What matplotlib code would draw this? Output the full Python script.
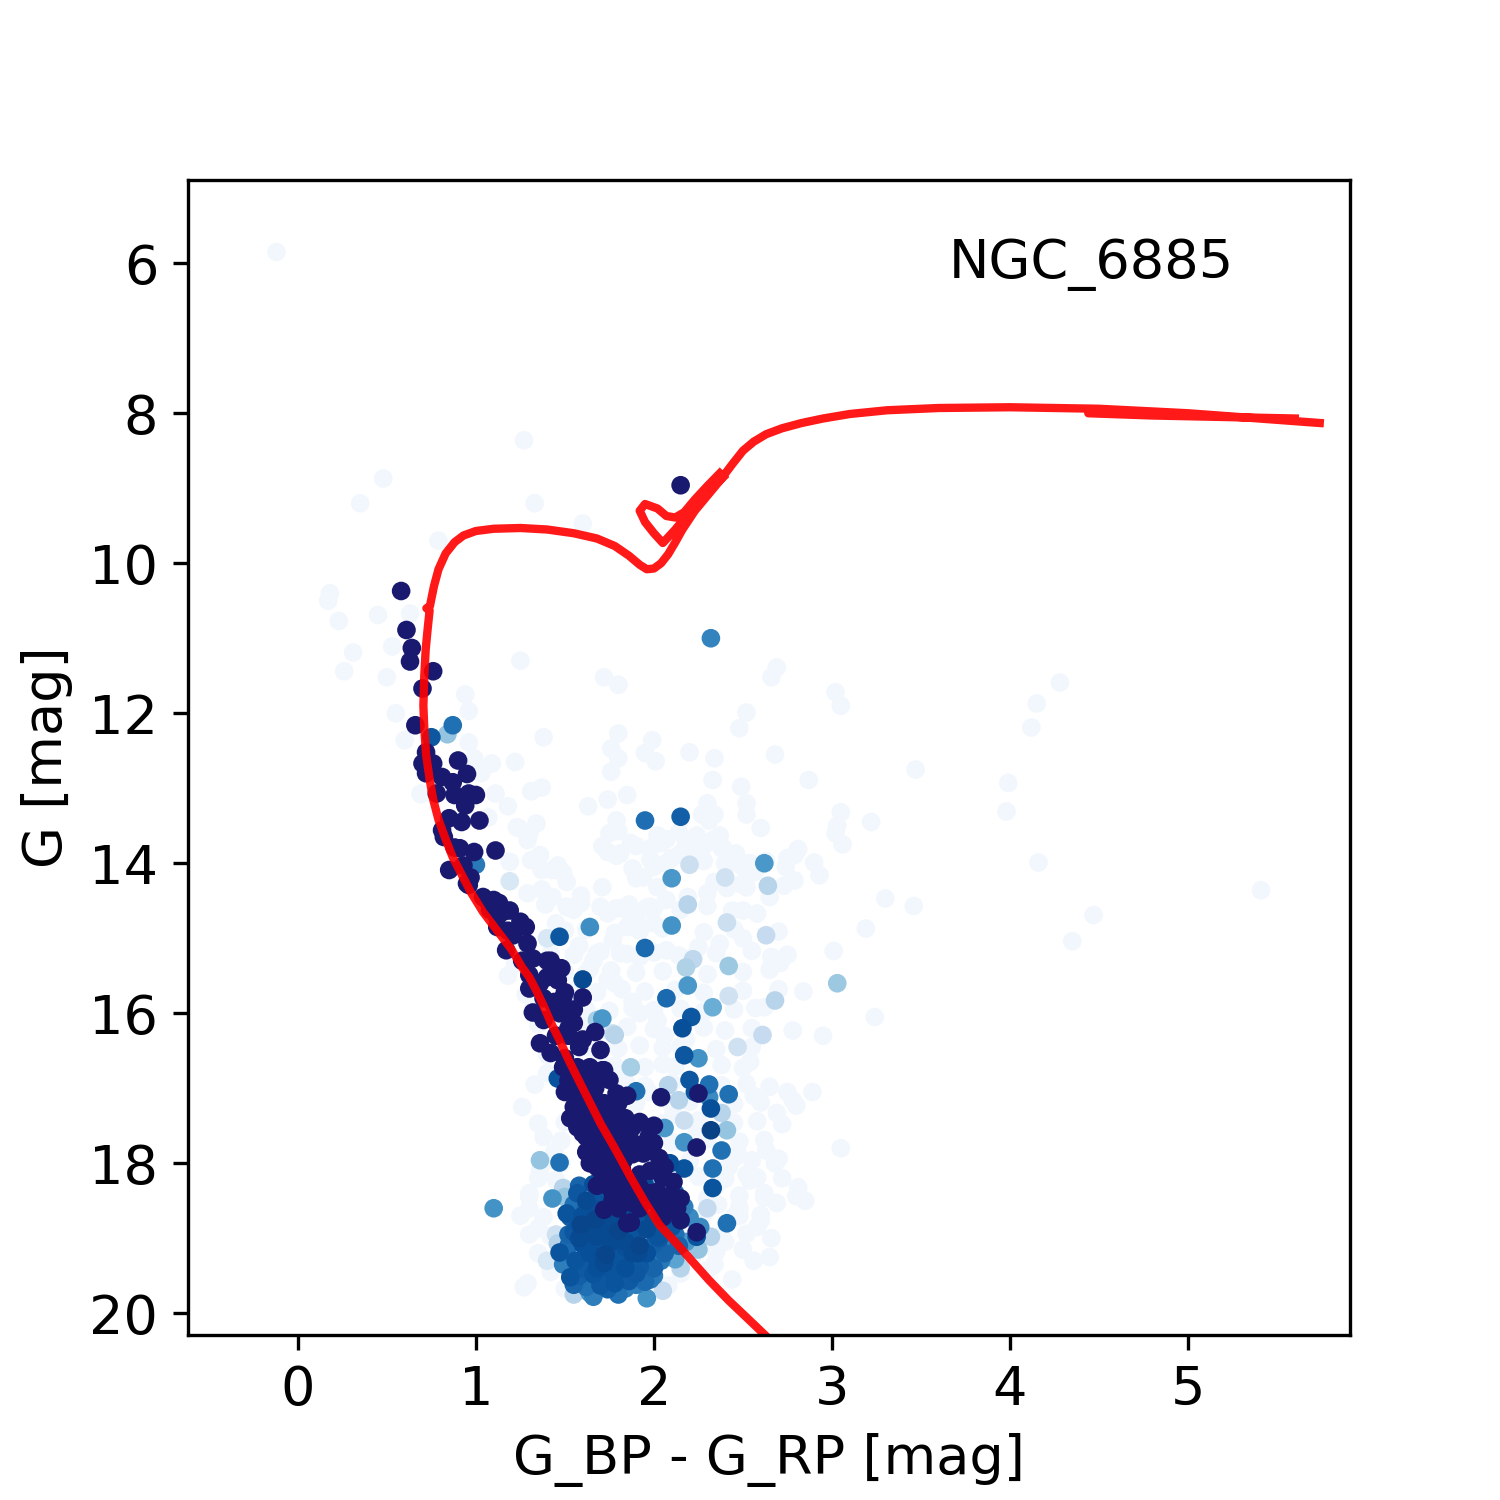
import numpy as np
import matplotlib
matplotlib.use('Agg')
import matplotlib.pyplot as plt

""" Cluster name and axis text """
cluster_name = 'NGC_6885'
x_label = 'G_BP - G_RP [mag]'
y_label = 'G [mag]'

""" Field stars (very low membership probability) : colour, magnitude """
field_bp_rp = [-0.12, 1.27, 0.48, 0.35, 1.33, 0.79, 1.60, 0.18, 0.17, 0.23, 0.45, 0.63, 0.31, 0.26, 0.53, 0.50,
               0.94, 0.96, 0.55, 0.60, 0.96, 1.38, 0.99, 1.09, 1.22, 1.03, 0.69, 1.11, 1.31, 1.37, 1.18, 1.07,
               1.24, 1.34, 1.29, 1.19, 1.31, 1.37, 1.49, 1.43, 1.59, 1.51, 1.45, 1.25, 1.72, 1.80, 1.80, 1.76,
               1.80, 1.76, 1.99, 1.95, 2.01, 2.20, 2.34, 2.33, 2.49, 2.52, 2.48, 2.66, 2.69, 2.68, 2.87, 3.02,
               3.05, 3.05, 3.03, 3.02, 3.06, 2.90, 2.93, 2.81, 2.79, 2.60, 2.52, 2.52, 2.34, 2.27, 2.30, 1.74,
               1.85, 1.63, 1.79, 2.02, 2.07, 2.14, 2.24, 2.31, 2.37, 2.38, 2.46, 2.54, 2.75, 2.63, 2.57, 2.48,
               2.40, 2.28, 2.18, 2.04, 1.98, 1.90, 1.87, 1.75, 1.80, 1.71, 1.79, 2.10, 1.98, 1.90, 2.28, 2.34,
               2.49, 2.73, 1.43, 1.37, 1.39, 1.29, 1.51, 1.59, 1.79, 1.86, 1.98, 1.23, 1.30, 1.36, 1.46, 1.52,
               1.74, 1.81, 1.88, 1.94, 2.00, 2.07, 2.15, 2.22, 2.39, 2.33, 2.44, 2.50, 2.56, 2.74, 2.79, 1.71,
               2.02, 2.19, 2.30, 2.41, 2.52, 2.65, 2.58, 2.44, 2.50, 2.37, 2.25, 2.22, 1.85, 1.90, 2.00, 1.83,
               1.96, 2.07, 1.74, 1.77, 1.68, 2.07, 1.81, 1.92, 4.28, 4.15, 4.12, 3.47, 3.99, 3.98, 3.22, 3.30,
               3.46, 4.16, 4.47, 4.35, 5.41, 3.19, 3.01, 2.71, 2.66, 2.84, 2.57, 3.24, 2.78, 2.54, 2.56, 2.75,
               2.89, 2.78, 2.69, 2.63, 2.81, 2.54, 2.60, 2.69, 2.48, 2.47, 1.35, 1.30, 1.35, 1.29, 1.27, 0.69,
               1.55, 1.70, 1.85, 2.00, 2.15, 2.30, 2.50, 1.50, 1.62, 1.78, 1.92, 2.05, 2.28, 2.45, 2.70, 1.42,
               1.55, 1.70, 1.85, 2.00, 2.14, 2.35, 2.55, 2.75, 1.50, 1.62, 1.76, 1.90, 2.05, 2.30, 2.50, 2.65,
               1.55, 1.68, 1.82, 1.95, 2.12, 2.28, 2.50, 2.70, 1.62, 1.75, 1.88, 2.00, 2.15, 2.28, 2.45, 2.62,
               1.60, 1.72, 1.85, 2.00, 2.28, 2.40, 2.55, 1.62, 1.80, 1.92, 2.05, 2.15, 2.35, 2.55, 1.78, 1.95,
               2.05, 2.12, 2.38, 2.50, 1.85, 1.95, 2.10, 2.38, 2.52, 2.65, 1.90, 2.10, 2.20, 2.45, 2.60, 2.80,
               1.50, 2.05, 2.25, 2.45, 2.58, 2.72, 1.48, 2.10, 2.30, 2.48, 2.62, 1.42, 2.20, 2.45, 2.55, 2.70,
               1.35, 1.45, 2.25, 2.40, 2.58, 1.30, 2.30, 2.48, 2.62, 2.80, 1.25, 1.38, 2.28, 2.45, 2.60, 1.30,
               1.42, 2.20, 2.38, 2.52, 1.35, 2.22, 2.35, 1.42, 2.15, 2.30, 1.27, 1.50, 2.08, 2.95, 2.85, 3.05,
               1.22, 1.28, 1.35, 1.40, 1.33, 1.26, 1.38, 1.44, 1.20, 1.32, 1.45, 1.40, 1.36, 1.48, 1.30, 1.18,
               2.35, 2.42, 2.52, 2.62, 2.68, 2.40, 2.50, 2.58, 2.66, 2.72, 2.34, 2.44, 2.56, 2.65, 2.36, 2.48,
               1.58, 1.66, 1.74, 1.88, 2.02, 2.18, 1.57, 1.69, 1.83, 1.97, 2.11, 2.24, 1.64, 1.78, 1.92, 2.06]
field_g = [5.85, 8.36, 8.87, 9.20, 9.20, 9.70, 9.47, 10.40, 10.50, 10.77, 10.69, 10.67, 11.19, 11.44, 11.11, 11.52,
           11.75, 11.97, 12.00, 12.36, 12.39, 12.32, 12.60, 12.67, 12.65, 12.80, 13.08, 13.07, 13.04, 12.99, 13.24, 13.39,
           13.53, 13.47, 13.69, 13.98, 13.96, 14.09, 14.13, 14.45, 14.43, 14.58, 14.80, 11.30, 11.52, 11.62, 12.27, 12.47,
           12.60, 12.78, 12.36, 12.53, 12.64, 12.52, 12.60, 12.89, 12.98, 11.99, 12.20, 11.52, 11.39, 12.55, 12.89, 11.72,
           11.90, 13.32, 13.50, 13.60, 13.75, 13.99, 14.16, 13.81, 13.89, 13.53, 13.35, 13.20, 13.35, 13.35, 13.20, 13.15,
           13.09, 13.24, 13.43, 13.63, 13.68, 13.59, 13.63, 13.43, 13.63, 13.80, 13.87, 14.00, 13.93, 13.97, 14.09, 13.97,
           14.00, 13.77, 13.77, 13.73, 13.80, 13.77, 13.73, 13.60, 13.57, 13.77, 13.90, 13.93, 13.95, 14.20, 13.97, 14.25,
           14.28, 14.30, 14.09, 14.35, 14.55, 14.40, 14.25, 14.53, 14.60, 14.55, 14.58, 13.52, 13.60, 13.89, 14.03, 14.59,
           13.85, 13.87, 14.07, 14.19, 14.05, 14.00, 13.87, 13.83, 13.80, 13.69, 13.99, 14.05, 14.12, 14.05, 14.23, 14.32,
           14.32, 14.45, 14.40, 14.33, 14.32, 14.45, 14.67, 14.63, 15.00, 15.07, 15.12, 15.25, 14.85, 14.73, 14.80, 14.59,
           14.59, 14.49, 14.67, 15.03, 15.20, 15.16, 15.20, 15.25, 11.59, 11.87, 12.19, 12.75, 12.93, 13.31, 13.45, 14.47,
           14.57, 13.99, 14.69, 15.04, 14.36, 14.87, 15.17, 15.33, 15.25, 15.71, 15.93, 16.05, 16.23, 16.65, 17.10, 17.05,
           17.05, 17.16, 17.33, 17.83, 18.32, 18.23, 18.76, 18.53, 18.59, 17.87, 17.47, 18.40, 18.87, 19.60, 19.65, 13.07,
           14.62, 14.58, 14.63, 14.60, 14.62, 14.57, 14.63, 14.90, 14.88, 14.93, 14.90, 14.87, 14.92, 14.88, 14.91, 15.20,
           15.22, 15.18, 15.21, 15.19, 15.23, 15.20, 15.17, 15.22, 15.45, 15.47, 15.43, 15.46, 15.44, 15.48, 15.45, 15.42,
           15.70, 15.72, 15.68, 15.71, 15.69, 15.73, 15.70, 15.68, 15.95, 15.97, 15.93, 15.96, 15.94, 15.98, 15.95, 15.92,
           16.20, 16.22, 16.18, 16.21, 16.19, 16.23, 16.20, 16.45, 16.47, 16.43, 16.46, 16.44, 16.48, 16.45, 16.70, 16.72,
           16.68, 16.71, 16.69, 16.73, 16.95, 16.97, 16.93, 16.96, 16.94, 16.98, 17.20, 17.22, 17.18, 17.21, 17.19, 17.23,
           17.45, 17.47, 17.43, 17.46, 17.44, 17.48, 17.70, 17.72, 17.68, 17.71, 17.69, 17.95, 17.97, 17.93, 17.96, 17.94,
           18.20, 18.22, 18.18, 18.21, 18.19, 18.45, 18.47, 18.43, 18.46, 18.44, 18.70, 18.72, 18.68, 18.71, 18.69, 18.95,
           18.97, 18.93, 18.96, 18.94, 19.20, 19.22, 19.18, 19.45, 19.47, 19.43, 19.65, 19.67, 19.63, 16.30, 18.50, 17.80,
           15.35, 15.75, 16.15, 16.55, 16.95, 17.25, 17.65, 17.85, 15.10, 15.95, 16.30, 16.80, 18.10, 18.00, 18.60, 15.50,
           18.30, 18.05, 18.15, 18.40, 18.00, 19.05, 19.15, 18.85, 19.00, 18.20, 19.35, 19.55, 19.30, 19.25, 18.55, 18.70,
           15.10, 15.30, 15.55, 15.85, 16.10, 16.35, 16.05, 16.60, 16.82, 17.05, 17.35, 17.60, 15.40, 15.60, 16.00, 16.30]

""" Stars with intermediate probability : colour, magnitude, probability """
mid_bp_rp = [2.32, 0.87, 0.84, 0.75, 1.95, 2.15, 2.62, 1.00, 1.19, 1.64, 2.10, 2.19, 2.41, 2.63, 2.20, 2.10,
             2.40, 2.64, 1.47, 1.40, 1.95, 2.18, 2.22, 2.42, 2.19, 2.07, 2.33, 2.42, 2.68, 3.03, 2.61, 2.47,
             2.21, 2.16, 1.78, 1.71, 1.68, 1.77, 1.60, 2.17, 2.25, 2.20, 2.31, 2.42, 2.23, 2.32, 2.31, 2.14,
             2.08, 1.87, 1.90, 2.38, 2.17, 2.41, 2.32, 2.06, 2.17, 2.38, 2.33, 2.17, 2.09, 2.33, 2.41, 2.24,
             2.26, 2.32, 1.46, 1.36, 1.47, 1.43, 1.49, 1.51, 1.47, 1.53, 1.46, 1.64, 1.96, 1.84, 1.70, 1.10,
             1.58, 1.66, 1.74, 1.95, 2.00, 1.55, 1.62, 1.70, 1.80, 1.90, 2.07, 2.17, 1.53, 1.60, 1.67, 1.75,
             1.83, 1.92, 2.00, 2.08, 2.20, 1.55, 1.63, 1.72, 1.80, 1.88, 1.96, 2.04, 2.12, 1.52, 1.60, 1.68,
             1.76, 1.84, 1.92, 2.00, 2.08, 2.18, 1.56, 1.64, 1.72, 1.80, 1.88, 1.96, 2.04, 2.12, 1.58, 1.66,
             1.74, 1.82, 1.90, 2.00, 1.62, 1.74, 1.90, 1.50, 1.45, 2.15, 2.25, 2.30, 1.40, 1.55, 2.05, 1.98,
             2.10, 1.59, 1.68, 1.77, 1.86, 1.64, 1.73, 1.82, 1.91, 2.03,
             1.57, 1.65, 1.73, 1.58, 1.68, 1.78, 1.86, 1.94, 2.02, 1.64, 1.72, 1.80, 1.88, 1.96, 1.60, 1.68,
             1.76, 1.84, 1.92, 2.00, 1.70, 1.78, 1.86, 1.95, 1.66, 1.80, 2.06, 1.52, 1.49, 1.55, 2.10, 2.14,
             1.62, 1.70, 1.86, 1.58, 1.98, 1.76, 1.84, 2.12]
mid_g = [11.00, 12.16, 12.28, 12.32, 13.43, 13.38, 14.00, 14.02, 14.24, 14.85, 14.83, 14.55, 14.79, 14.96, 14.02, 14.20,
         14.19, 14.30, 14.98, 15.00, 15.13, 15.39, 15.28, 15.37, 15.63, 15.80, 15.92, 15.77, 15.83, 15.60, 16.29, 16.45,
         16.05, 16.20, 16.29, 16.07, 16.09, 16.27, 15.55, 16.56, 16.60, 16.89, 16.95, 17.08, 17.05, 17.27, 17.12, 17.16,
         16.96, 16.72, 17.04, 17.33, 17.43, 17.56, 17.56, 17.53, 17.72, 17.83, 18.07, 18.07, 18.00, 18.33, 18.80, 18.98,
         18.85, 18.98, 16.87, 17.96, 17.99, 18.47, 18.33, 18.67, 19.19, 19.52, 19.07, 19.73, 19.80, 19.67, 19.63, 18.60,
         18.30, 18.28, 18.35, 18.30, 18.45, 18.55, 18.50, 18.55, 18.50, 18.55, 18.52, 18.58, 18.72, 18.70, 18.75, 18.68,
         18.72, 18.70, 18.75, 18.70, 18.72, 18.92, 18.88, 18.95, 18.90, 18.93, 18.88, 18.92, 18.95, 19.10, 19.08, 19.12,
         19.05, 19.12, 19.10, 19.08, 19.12, 19.05, 19.30, 19.28, 19.33, 19.30, 19.27, 19.32, 19.30, 19.28, 19.50, 19.48,
         19.52, 19.50, 19.47, 19.50, 19.65, 19.68, 19.62, 18.45, 18.95, 19.40, 19.15, 18.60, 19.30, 19.75, 19.70, 18.15,
         18.35, 18.82, 18.62, 18.80, 18.62, 19.20, 19.22, 19.40, 19.20, 19.00,
         18.40, 18.62, 18.82, 18.82, 18.98, 18.80, 18.62, 18.80, 18.98, 19.18, 19.22, 19.18, 19.20, 19.20, 19.40, 19.40,
         19.42, 19.40, 19.38, 19.40, 19.60, 19.60, 19.57, 19.58, 19.78, 19.75, 19.20, 18.95, 19.35, 19.62, 18.85, 19.10,
         18.58, 18.45, 18.35, 19.00, 19.55, 18.55, 19.05, 18.40]
mid_prob = [0.68, 0.75, 0.40, 0.85, 0.76, 0.82, 0.60, 0.72, 0.15, 0.64, 0.62, 0.30, 0.22, 0.25, 0.22, 0.60,
            0.20, 0.30, 0.85, 0.15, 0.78, 0.32, 0.27, 0.38, 0.60, 0.78, 0.50, 0.20, 0.30, 0.38, 0.25, 0.20,
            0.85, 0.88, 0.30, 0.60, 0.35, 0.22, 0.90, 0.85, 0.62, 0.85, 0.75, 0.75, 0.85, 0.88, 0.65, 0.30,
            0.30, 0.35, 0.75, 0.30, 0.22, 0.40, 0.93, 0.60, 0.62, 0.75, 0.75, 0.86, 0.88, 0.86, 0.75, 0.86,
            0.65, 0.30, 0.87, 0.40, 0.75, 0.62, 0.30, 0.86, 0.86, 0.86, 0.30, 0.62, 0.62, 0.70, 0.85, 0.62,
            0.80, 0.88, 0.85, 0.90, 0.82, 0.75, 0.90, 0.86, 0.88, 0.84, 0.80, 0.70, 0.82, 0.88, 0.92, 0.85,
            0.90, 0.86, 0.90, 0.80, 0.65, 0.85, 0.90, 0.88, 0.92, 0.86, 0.90, 0.84, 0.75, 0.78, 0.88, 0.86,
            0.90, 0.88, 0.92, 0.82, 0.70, 0.60, 0.86, 0.80, 0.90, 0.86, 0.84, 0.78, 0.72, 0.55, 0.82, 0.86,
            0.84, 0.80, 0.85, 0.70, 0.75, 0.82, 0.70, 0.40, 0.20, 0.30, 0.40, 0.25, 0.15, 0.30, 0.25, 0.50,
            0.45, 0.92, 0.88, 0.90, 0.86, 0.88, 0.92, 0.86, 0.90, 0.84,
            0.85, 0.88, 0.90, 0.86, 0.90, 0.88, 0.86, 0.84, 0.86, 0.88, 0.90, 0.86, 0.90, 0.88, 0.84, 0.88,
            0.86, 0.88, 0.84, 0.80, 0.82, 0.86, 0.84, 0.78, 0.70, 0.75, 0.80, 0.80, 0.70, 0.80, 0.86, 0.80,
            0.80, 0.86, 0.86, 0.90, 0.72, 0.92, 0.90, 0.78]

""" Likely members : colour, magnitude """
mem_bp_rp = [2.15, 0.58, 0.61, 0.64, 0.63, 0.76, 0.70, 0.66, 0.72, 0.70, 0.76, 0.72, 0.81, 0.90, 0.95, 0.87,
             0.78, 0.88, 0.96, 1.00, 0.94, 0.85, 0.92, 1.02, 0.81, 0.82, 0.88, 0.91, 0.99, 1.11, 0.85, 0.93,
             0.97, 0.96, 1.06, 1.12, 1.19, 0.95, 1.04, 1.10, 1.13, 1.12, 1.12, 1.21, 1.17, 1.29, 1.32, 1.30,
             1.40, 1.48, 1.46, 1.30, 1.50, 1.32, 1.49, 1.60, 1.38, 1.47, 1.55, 1.36, 1.42, 1.58, 1.67, 1.70,
             1.49, 1.57, 1.64, 1.71, 1.75, 1.55, 1.62, 1.79, 1.55, 1.64, 1.75, 1.57, 1.68, 1.79, 1.98, 2.00,
             1.68, 1.83, 1.94, 1.68, 1.56, 1.62, 1.71, 1.79, 1.66, 1.70, 1.71, 1.79, 1.77, 1.88, 1.88, 1.97,
             2.00, 2.03, 2.05, 2.11, 2.15, 2.13, 2.15, 2.02, 2.25, 2.24, 2.04, 1.72, 2.14, 2.11, 1.92, 1.87,
             1.77, 1.85, 1.52, 1.58, 1.66, 1.72, 1.60, 1.70, 1.78, 1.84, 1.62, 1.73, 1.80, 1.90, 1.76, 1.84,
             1.92, 1.98, 1.82, 2.06, 1.15, 1.25, 1.36, 1.44, 1.52, 1.40, 2.24,
             1.50, 1.56, 1.62, 1.50, 1.58, 1.67, 1.70, 1.58, 1.53, 1.64, 1.74, 1.60, 1.66, 1.76, 1.86, 1.92,
             1.62, 1.70, 1.78, 1.88, 1.64, 1.74, 1.82, 1.90, 1.98, 1.68, 1.76, 1.86, 1.94, 2.02, 2.08, 1.80,
             1.92, 1.72, 2.05, 1.84, 1.80, 1.85, 1.45, 1.52, 1.60, 1.44, 1.38, 1.55, 1.35, 1.42, 1.26, 1.18,
             1.08, 1.28]
mem_g = [8.96, 10.37, 10.89, 11.13, 11.31, 11.44, 11.67, 12.16, 12.52, 12.67, 12.67, 12.80, 12.85, 12.63, 12.81, 12.92,
         13.07, 13.09, 13.07, 13.09, 13.23, 13.40, 13.45, 13.43, 13.56, 13.65, 13.79, 13.80, 13.85, 13.83, 14.09, 14.03,
         14.19, 14.29, 14.49, 14.53, 14.63, 14.27, 14.45, 14.49, 14.53, 14.72, 14.85, 14.96, 15.16, 15.07, 15.27, 15.49,
         15.52, 15.40, 15.56, 15.67, 15.72, 15.99, 15.79, 15.79, 16.09, 16.00, 16.13, 16.40, 16.53, 16.45, 16.25, 16.49,
         16.72, 16.72, 16.72, 16.76, 16.89, 16.99, 17.07, 17.07, 17.25, 17.33, 17.43, 17.52, 17.79, 17.69, 17.52, 17.73,
         18.05, 17.96, 17.87, 16.89, 17.33, 17.56, 17.43, 17.33, 17.92, 18.09, 18.23, 18.36, 18.47, 18.53, 17.52, 17.65,
         17.50, 17.93, 18.19, 18.25, 18.47, 18.60, 18.76, 18.38, 17.07, 17.79, 17.12, 16.76, 18.48, 18.63, 18.32, 18.79,
         18.49, 18.80, 16.90, 17.00, 17.15, 17.20, 17.40, 17.55, 17.55, 17.70, 17.65, 17.85, 17.80, 17.75, 18.15, 18.25,
         18.15, 18.40, 18.40, 18.05, 14.65, 14.78, 15.60, 15.85, 16.30, 15.30, 18.92,
         16.60, 16.85, 16.90, 17.05, 17.15, 17.00, 17.30, 17.35, 17.40, 17.45, 17.62, 17.60, 17.70, 17.72, 17.60, 17.45,
         17.85, 17.95, 17.90, 17.88, 18.00, 18.10, 18.08, 18.25, 18.10, 18.30, 18.35, 18.45, 18.45, 18.55, 18.45, 18.60,
         18.60, 18.62, 18.72, 17.40, 17.20, 17.10, 16.30, 16.20, 16.35, 15.90, 15.80, 15.95, 15.60, 15.30, 15.30, 14.90,
         14.62, 14.85]

""" Isochrone (NaN separates the branches) """
iso_bp_rp = [2.75, 2.65, 2.54, 2.42, 2.31, 2.22, 2.12, 2.03, 1.95, 1.87, 1.78, 1.70, 1.60, 1.52, 1.47, 1.42,
             1.38, 1.34, 1.30, 1.26, 1.20, 1.12, 1.04, 0.97, 0.92, 0.87, 0.83, 0.79, 0.76, 0.74, 0.72, 0.71,
             0.705, 0.71, 0.718, 0.728, 0.735, 0.74, 0.722, 0.742, 0.752, 0.765, 0.79, 0.83, 0.88, 0.93, 1.00,
             1.10, 1.25, 1.40, 1.55, 1.68, 1.78, 1.86, 1.92, 1.96, 2.00, 2.04, 2.08, 2.12, 2.16, 2.23, 2.30,
             2.37, 2.44, 2.50, 2.56, 2.63, 2.72, 2.83, 2.95, 3.10, 3.31, 3.60, 4.00, 4.50, 5.00, 5.40, 5.74, np.nan,
             2.39, 2.30, 2.20, 2.12, 2.05, 2.00, 1.95, 1.92, 1.95, 2.02, 2.07, 2.12, 2.17, 2.23, 2.30, 2.37, np.nan,
             4.44, 4.44, 4.80, 5.20, 5.60]
iso_g = [20.60, 20.35, 20.10, 19.83, 19.56, 19.32, 19.05, 18.82, 18.52, 18.19, 17.80, 17.47, 17.00, 16.62, 16.36, 16.12,
         15.90, 15.70, 15.52, 15.39, 15.15, 14.90, 14.65, 14.38, 14.15, 13.92, 13.68, 13.42, 13.15, 12.88, 12.55, 12.20,
         11.90, 11.50, 11.15, 10.90, 10.74, 10.63, 10.60, 10.57, 10.45, 10.30, 10.08, 9.87, 9.72, 9.63, 9.57,
         9.54, 9.53, 9.55, 9.60, 9.67, 9.77, 9.90, 10.02, 10.08, 10.07, 10.00, 9.88, 9.72, 9.55, 9.30, 9.10,
         8.90, 8.68, 8.50, 8.38, 8.28, 8.20, 8.13, 8.07, 8.01, 7.96, 7.93, 7.92, 7.94, 8.00, 8.07, 8.13, np.nan,
         8.85, 9.05, 9.32, 9.55, 9.73, 9.60, 9.45, 9.30, 9.21, 9.27, 9.37, 9.39, 9.32, 9.15, 8.97, 8.80, np.nan,
         7.96, 8.00, 8.03, 8.05, 8.07]

plt.rcParams['font.size'] = 13

fig = plt.figure(figsize=(5, 5), dpi=300)
ax = fig.add_subplot(1, 1, 1)

# field stars first, then intermediate ones (lightest underneath), then members on top
ax.scatter(field_bp_rp, field_g, c=[0.03] * len(field_g), cmap='Blues', vmin=0, vmax=1, s=20, edgecolors='none')
order = np.argsort(mid_prob)
ax.scatter(np.array(mid_bp_rp)[order], np.array(mid_g)[order], c=np.array(mid_prob)[order],
           cmap='Blues', vmin=0, vmax=1, s=20, edgecolors='none')
ax.scatter(mem_bp_rp, mem_g, color='midnightblue', s=20, edgecolors='none')

ax.plot(iso_bp_rp, iso_g, color='red', alpha=0.9, lw=2)

ax.text(0.655, 0.915, cluster_name, transform=ax.transAxes)

ax.set_xlim(-0.62, 5.91)
ax.set_ylim(20.29, 4.89)
ax.set_xlabel(x_label)
ax.set_ylabel(y_label)

plt.savefig('out.png', dpi=300)
